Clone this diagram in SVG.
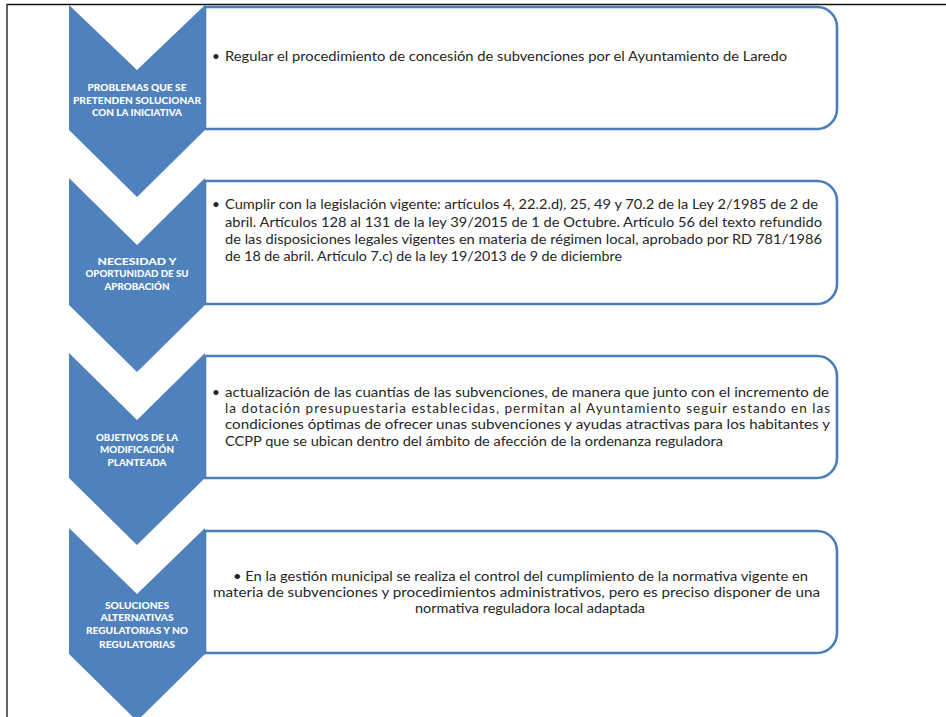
<svg xmlns="http://www.w3.org/2000/svg" width="946" height="717" viewBox="0 0 946 717">
<style>
.frame{stroke:#111;stroke-width:1.3;fill:none}
.chev{fill:#4F81BD}
.box{fill:#fff;stroke:#4A7EBB;stroke-width:2.6}
.lbl{font-family:Lato,"Liberation Sans",sans-serif;font-weight:900;font-size:10px;fill:#fff;text-anchor:middle}
.txt{font-family:Lato,"Liberation Sans",sans-serif;font-size:13.5px;fill:#262626}
.mid{text-anchor:middle}
</style>
<rect width="946" height="717" fill="#fff"/>
<path class="frame" d="M7,717 V4.5 H946"/>
<g id="connectors"/>
<g id="node1">
<path class="box" d="M205,7 H817 A20,20 0 0 1 837,27 V109 A20,20 0 0 1 817,129 H205 Z"/>
<polygon class="chev" points="69,5 137,70 205,5 205,130 137,197 69,130"/>
<text class="lbl" x="137" y="91" textLength="99" lengthAdjust="spacingAndGlyphs">PROBLEMAS QUE SE</text>
<text class="lbl" x="137" y="104" textLength="128" lengthAdjust="spacingAndGlyphs">PRETENDEN SOLUCIONAR</text>
<text class="lbl" x="137" y="116" textLength="90" lengthAdjust="spacingAndGlyphs">CON LA INICIATIVA</text>
<text class="txt" x="212" y="61">•</text>
<text class="txt" x="225" y="61" textLength="562" lengthAdjust="spacingAndGlyphs">Regular el procedimiento de concesión de subvenciones por el Ayuntamiento de Laredo</text>
</g>
<g id="node2">
<path class="box" d="M205,181 H817 A20,20 0 0 1 837,201 V284 A20,20 0 0 1 817,304 H205 Z"/>
<polygon class="chev" points="69,178 137,245 205,178 205,305 137,372 69,305"/>
<text class="lbl" x="137" y="265" textLength="79" lengthAdjust="spacingAndGlyphs">NECESIDAD Y</text>
<text class="lbl" x="137" y="277" textLength="103" lengthAdjust="spacingAndGlyphs">OPORTUNIDAD DE SU</text>
<text class="lbl" x="137" y="290" textLength="65" lengthAdjust="spacingAndGlyphs">APROBACIÓN</text>
<text class="txt" x="212" y="209">•</text>
<text class="txt" x="225" y="209" textLength="593" lengthAdjust="spacingAndGlyphs">Cumplir con la legislación vigente: artículos 4, 22.2.d), 25, 49 y 70.2 de la Ley 2/1985 de 2 de</text>
<text class="txt" x="225" y="227" textLength="597" lengthAdjust="spacingAndGlyphs">abril. Artículos 128 al 131 de la ley 39/2015 de 1 de Octubre. Artículo 56 del texto refundido</text>
<text class="txt" x="225" y="244" textLength="597" lengthAdjust="spacingAndGlyphs">de las disposiciones legales vigentes en materia de régimen local, aprobado por RD 781/1986</text>
<text class="txt" x="225" y="261" textLength="397" lengthAdjust="spacingAndGlyphs">de 18 de abril. Artículo 7.c) de la ley 19/2013 de 9 de diciembre</text>
</g>
<g id="node3">
<path class="box" d="M205,356 H817 A20,20 0 0 1 837,376 V458 A20,20 0 0 1 817,478 H205 Z"/>
<polygon class="chev" points="69,353 137,420 205,353 205,478 137,545 69,478"/>
<text class="lbl" x="137" y="441" textLength="82" lengthAdjust="spacingAndGlyphs">OBJETIVOS DE LA</text>
<text class="lbl" x="137" y="453" textLength="74" lengthAdjust="spacingAndGlyphs">MODIFICACIÓN</text>
<text class="lbl" x="137" y="466" textLength="59" lengthAdjust="spacingAndGlyphs">PLANTEADA</text>
<text class="txt" x="212" y="397">•</text>
<text class="txt" x="225" y="397" textLength="604" lengthAdjust="spacingAndGlyphs">actualización de las cuantías de las subvenciones, de manera que junto con el incremento de</text>
<text class="txt" x="225" y="413" textLength="605" lengthAdjust="spacing">la dotación presupuestaria establecidas, permitan al Ayuntamiento seguir estando en las</text>
<text class="txt" x="225" y="429" textLength="605" lengthAdjust="spacingAndGlyphs">condiciones óptimas de ofrecer unas subvenciones y ayudas atractivas para los habitantes y</text>
<text class="txt" x="225" y="446" textLength="498" lengthAdjust="spacingAndGlyphs">CCPP que se ubican dentro del ámbito de afección de la ordenanza reguladora</text>
</g>
<g id="node4">
<path class="box" d="M205,531 H817 A20,20 0 0 1 837,551 V633 A20,20 0 0 1 817,653 H205 Z"/>
<polygon class="chev" points="69,528 137,594 205,528 205,654 137,721 69,654"/>
<text class="lbl" x="137" y="609" textLength="64" lengthAdjust="spacingAndGlyphs">SOLUCIONES</text>
<text class="lbl" x="137" y="621" textLength="73" lengthAdjust="spacingAndGlyphs">ALTERNATIVAS</text>
<text class="lbl" x="137" y="634" textLength="102" lengthAdjust="spacingAndGlyphs">REGULATORIAS Y NO</text>
<text class="lbl" x="137" y="648" textLength="76" lengthAdjust="spacingAndGlyphs">REGULATORIAS</text>
<text class="txt mid" x="520.5" y="581" textLength="575" lengthAdjust="spacingAndGlyphs">• En la gestión municipal se realiza el control del cumplimiento de la normativa vigente en</text>
<text class="txt mid" x="516.5" y="597" textLength="607" lengthAdjust="spacingAndGlyphs">materia de subvenciones y procedimientos administrativos, pero es preciso disponer de una</text>
<text class="txt mid" x="530" y="613" textLength="230" lengthAdjust="spacingAndGlyphs">normativa reguladora local adaptada</text>
</g>
</svg>
